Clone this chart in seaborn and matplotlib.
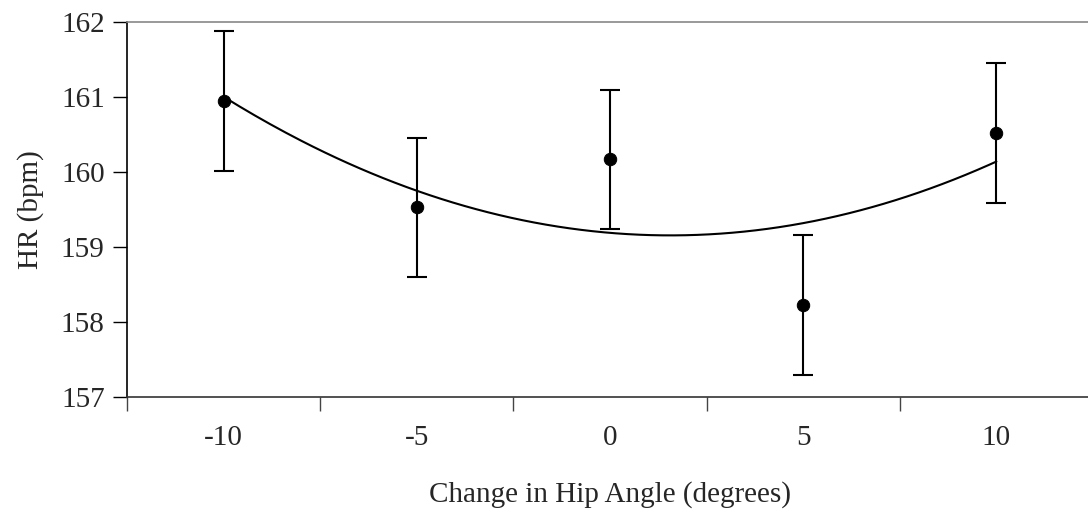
import numpy as np
import pandas as pd
import matplotlib
matplotlib.use('Agg')
import matplotlib.pyplot as plt
import seaborn as sns

# data
hip_angle = [-10, -5, 0, 5, 10]
hr_mean = [160.95, 159.53, 160.17, 158.23, 160.52]
hr_err = [0.93, 0.93, 0.93, 0.93, 0.93]

df = pd.DataFrame({'angle': hip_angle, 'hr': hr_mean, 'err': hr_err})

# quadratic trendline like excel
coef = np.polyfit(df['angle'], df['hr'], 2)
xs = np.linspace(-10, 10, 200)
trend = pd.DataFrame({'angle': xs, 'hr': np.polyval(coef, xs)})

sns.set_style("white")
plt.rcParams['font.family'] = ['Liberation Serif', 'DejaVu Serif']

fig = plt.figure(figsize=(10.88, 5.22), dpi=100)
ax = fig.add_axes([127 / 1088, 1 - 397 / 522, (1093 - 127) / 1088, (397 - 22) / 522])

sns.lineplot(data=trend, x='angle', y='hr', color='black', linewidth=1.5, ax=ax)
ax.errorbar(df['angle'], df['hr'], yerr=df['err'], fmt='none', ecolor='black',
            elinewidth=1.5, capsize=7, capthick=1.5, zorder=3)
sns.scatterplot(data=df, x='angle', y='hr', color='black', s=80, edgecolor='black',
                zorder=4, ax=ax)

ax.set_xlim(-12.5, 12.5)
ax.set_ylim(157, 162)
ax.set_yticks([157, 158, 159, 160, 161, 162])
ax.set_xticks([-12.5, -7.5, -2.5, 2.5, 7.5, 12.5])
ax.set_xticklabels([])
ax.set_xticks(hip_angle, minor=True)
ax.set_xticklabels([str(v) for v in hip_angle], minor=True)

ax.tick_params(axis='y', which='major', direction='out', length=10, width=1,
               color='black', labelsize=21, pad=6, left=True)
ax.tick_params(axis='x', which='major', direction='out', length=10, width=1,
               color='#444444', bottom=True)
ax.tick_params(axis='x', which='minor', length=0, labelsize=21, pad=20)

for side in ['left', 'bottom']:
    ax.spines[side].set_color('black')
    ax.spines[side].set_linewidth(1.2)
ax.spines['bottom'].set_color('#333333')
ax.spines['top'].set_color('#888888')
ax.spines['top'].set_linewidth(1.2)
ax.spines['right'].set_visible(False)

ax.set_xlabel('Change in Hip Angle (degrees)', fontsize=21, labelpad=22)
ax.set_ylabel('HR (bpm)', fontsize=21, labelpad=12)

fig.savefig('out.png', dpi=100)
